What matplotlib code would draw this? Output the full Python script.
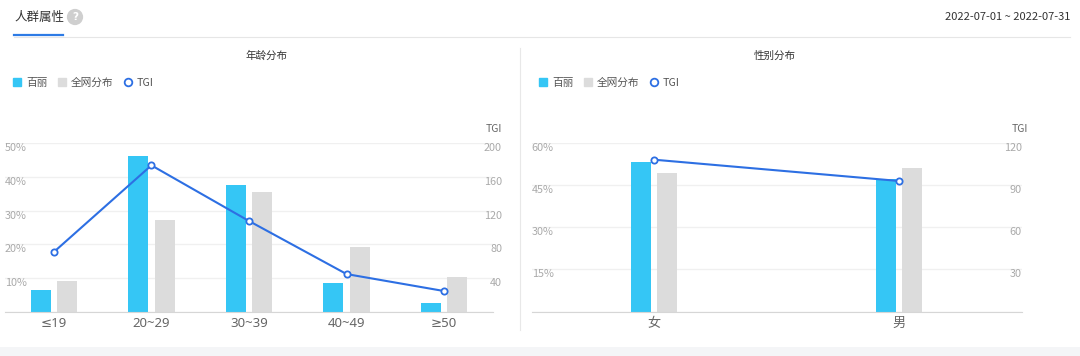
import matplotlib
matplotlib.use('Agg')
import matplotlib.pyplot as plt
import numpy as np
from matplotlib.lines import Line2D
from matplotlib.patches import Patch, Rectangle

plt.rcParams['font.family'] = ['Noto Sans CJK SC', 'DejaVu Sans']

# age distribution
age_cats = ['≤19', '20~29', '30~39', '40~49', '≥50']
age_brand = [6.5, 46.3, 37.5, 8.5, 2.6]      # 百丽 %
age_all = [9.2, 27.1, 35.5, 19.3, 10.4]      # 全网分布 %
age_tgi = [70.7, 173.8, 107.6, 44.5, 24.3]

# gender distribution
sex_cats = ['女', '男']
sex_brand = [53.2, 47.1]
sex_all = [49.4, 51.2]
sex_tgi = [108.3, 93.1]

BLUE = '#35c6f5'
GREY = '#dcdcdc'
LINE = '#2d6fe3'
W, H = 1080, 356

fig = plt.figure(figsize=(W / 100, H / 100), dpi=100)


def fx(px):
    return px / W


def fy(py):
    return 1 - py / H


def panel(rect, cats, brand, allnet, tgi, ymax, tmax, ystep, tstep,
          width, off, rpad, title_x, tgi_x, xfont):
    ax = fig.add_axes(rect)
    x = np.arange(len(cats))
    ax.bar(x - off, brand, width, color=BLUE, zorder=2)
    ax.bar(x + off, allnet, width, color=GREY, zorder=2)
    ax.set_xlim(-0.5, len(cats) - 0.5)
    ax.set_ylim(0, ymax)
    yt = np.arange(0, ymax + 0.1, ystep)
    ax.set_yticks(yt)
    ax.set_yticklabels(['' if v == 0 else '%d%%' % v for v in yt])
    ax.grid(axis='y', color='#f0f0f0', lw=1)
    ax.set_axisbelow(True)
    for s in ['top', 'left', 'right']:
        ax.spines[s].set_visible(False)
    ax.spines['bottom'].set_color('#d6d6d6')
    ax.set_xticks(x)
    ax.set_xticklabels(cats, family=xfont)
    ax.tick_params(axis='x', length=0, pad=4, labelsize=9.5, labelcolor='#666666')
    ax.tick_params(axis='y', length=0, pad=0, labelsize=7.8, labelcolor='#aaaaaa')
    for lb in ax.get_yticklabels():
        lb.set_horizontalalignment('left')
        lb.set_verticalalignment('top')

    tw = ax.twinx()
    tw.plot(x, tgi, color=LINE, lw=1.5, marker='o', ms=4.5,
            mfc='white', mec=LINE, mew=1.3, zorder=3)
    tw.set_ylim(0, tmax)
    tt = np.arange(0, tmax + 0.1, tstep)
    tw.set_yticks(tt)
    tw.set_yticklabels(['' if v == 0 else '%d' % v for v in tt])
    tw.tick_params(axis='y', length=0, pad=rpad, labelsize=7.8, labelcolor='#aaaaaa')
    for lb in tw.get_yticklabels():
        lb.set_horizontalalignment('right')
        lb.set_verticalalignment('top')
    for s in tw.spines.values():
        s.set_visible(False)

    # TGI axis name and chart title
    fig.text(fx(tgi_x), fy(129), 'TGI', ha='right', va='center',
             fontsize=7.5, color='#666666')
    fig.text(fx(title_x), fy(56), title, ha='center', va='center',
             fontsize=7.6, color='#333333')
    return ax


title = '年龄分布'
ax1 = panel([fx(5), fy(311.5), fx(488), (311.5 - 143.3) / H],
            age_cats, age_brand, age_all, age_tgi, 50, 200, 10, 40,
            0.205, 0.136, 6.5, 266, 502, ['Noto Sans', 'DejaVu Sans'])
title = '性别分布'
ax2 = panel([fx(531.7), fy(311.5), fx(490), (311.5 - 143.3) / H],
            sex_cats, sex_brand, sex_all, sex_tgi, 60, 120, 15, 30,
            0.082, 0.053, 0, 775, 1028, ['Noto Sans CJK SC', 'DejaVu Sans'])

# legends
handles = [Patch(color=BLUE), Patch(color=GREY),
           Line2D([], [], ls='none', marker='o', ms=5.5, mfc='white',
                  mec=LINE, mew=1.3)]
labels = ['百丽', '全网分布', 'TGI']
for x0 in [13, 539]:
    fig.legend(handles, labels, loc='center left',
               bbox_to_anchor=(fx(x0), fy(83)), ncol=3, frameon=False,
               fontsize=7.7, handlelength=0.75, handleheight=0.75,
               handletextpad=0.45, columnspacing=1.0, borderpad=0,
               borderaxespad=0, labelcolor='#555555')

# header
fig.text(fx(14), fy(17), '人群属性', ha='left', va='center',
         fontsize=9, color='#333333')
fig.text(fx(75), fy(17), '?', ha='center', va='center', fontsize=7.5,
         color='white', fontweight='bold', family=['DejaVu Sans'],
         bbox=dict(boxstyle='circle,pad=0.3', fc='#cfcfcf', ec='none'))
fig.text(fx(1070), fy(17), '2022-07-01 ~ 2022-07-31', ha='right',
         va='center', fontsize=8, color='#333333')
fig.add_artist(Line2D([fx(14), fx(1070)], [fy(36.5), fy(36.5)],
                      color='#e6e6e6', lw=0.8))
fig.add_artist(Line2D([fx(14), fx(63)], [fy(35), fy(35)],
                      color='#2d7be5', lw=1.6))
# divider and bottom band
fig.add_artist(Line2D([fx(520), fx(520)], [fy(48), fy(330)],
                      color='#e8e8e8', lw=0.8))
fig.add_artist(Rectangle((0, 0), 1, 9 / H, transform=fig.transFigure,
                         color='#f4f5f7', lw=0))

fig.savefig('out.png', dpi=100)
